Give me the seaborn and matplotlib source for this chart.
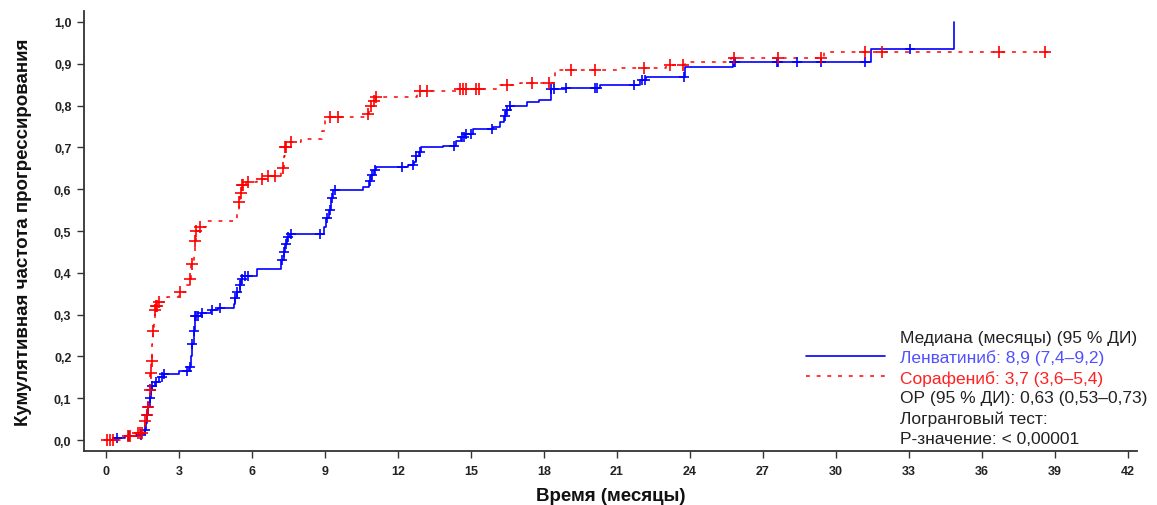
import numpy as np
import pandas as pd
import matplotlib
matplotlib.use("Agg")
import matplotlib.pyplot as plt
from matplotlib.lines import Line2D
import seaborn as sns

# ---------------- data ----------------
arm_names = ["Ленватиниб", "Сорафениб"]

len_times = [0, 0.3, 0.8, 1.3, 1.5, 1.6, 1.65, 1.7, 1.75, 1.8, 1.85, 1.9, 2.0, 2.2, 2.4,
             3.0, 3.4, 3.5, 3.55, 3.6, 3.65, 3.9, 4.3, 4.6, 5.25, 5.3, 5.4, 5.5, 5.55, 5.6,
             6.2, 7.2, 7.3, 7.35, 7.45, 7.55, 8.95, 9.05, 9.15, 9.25, 9.35, 10.55, 10.8,
             10.9, 11.0, 11.1, 12.4, 12.65, 12.75, 12.85, 12.95, 13.85, 14.4, 14.6, 14.75,
             15.1, 15.9, 16.2, 16.35, 16.45, 16.6, 17.3, 17.8, 18.3, 18.9, 20.3, 21.95,
             22.2, 23.8, 25.75, 31.45, 34.85]
len_values = [0.0, 0.004, 0.009, 0.013, 0.018, 0.025, 0.04, 0.06, 0.08, 0.10, 0.12, 0.13,
              0.138, 0.15, 0.158, 0.166, 0.175, 0.20, 0.23, 0.26, 0.297, 0.303, 0.31, 0.315,
              0.325, 0.34, 0.355, 0.37, 0.385, 0.393, 0.408, 0.43, 0.45, 0.47, 0.485, 0.494,
              0.509, 0.53, 0.55, 0.58, 0.597, 0.605, 0.62, 0.635, 0.645, 0.652, 0.657, 0.664,
              0.68, 0.69, 0.70, 0.704, 0.715, 0.725, 0.732, 0.744, 0.748, 0.76, 0.775, 0.79,
              0.80, 0.808, 0.813, 0.84, 0.842, 0.848, 0.86, 0.868, 0.893, 0.903, 0.935, 1.0]
len_censored = [0.45, 0.95, 1.45, 1.6, 1.7, 1.75, 1.8, 1.85, 1.9, 2.05, 2.3, 2.4, 3.35, 3.45,
                3.55, 3.6, 3.65, 3.7, 3.8, 3.95, 4.35, 4.7, 5.3, 5.4, 5.5, 5.58, 5.7, 5.85,
                7.25, 7.3, 7.4, 7.5, 7.6, 8.8, 9.1, 9.2, 9.3, 9.4, 10.85, 10.95, 11.05, 12.15,
                12.6, 12.75, 12.9, 14.3, 14.65, 14.7, 14.8, 15.0, 15.85, 16.4, 16.5, 16.6,
                18.3, 18.4, 18.9, 20.1, 20.2, 21.7, 22.05, 22.15, 23.75, 25.8, 25.85, 27.56,
                27.63, 28.4, 29.4, 31.2, 33.05]

sor_times = [0, 0.9, 1.25, 1.55, 1.6, 1.7, 1.75, 1.8, 1.83, 1.86, 1.9, 1.93, 1.96, 2.0,
             2.05, 2.15, 2.5, 3.0, 3.3, 3.45, 3.5, 3.6, 3.65, 3.7, 3.85, 4.1, 5.4, 5.45, 5.5,
             5.6, 5.75, 6.2, 6.6, 7.2, 7.3, 7.35, 7.45, 8.0, 8.9, 9.0, 10.7, 10.8, 10.9, 11.0,
             11.1, 12.8, 14.5, 16.2, 17.0, 18.45, 21.2, 23.0, 23.8, 25.7, 29.5, 38.7]
sor_values = [0.0, 0.01, 0.017, 0.03, 0.045, 0.06, 0.08, 0.12, 0.16, 0.19, 0.23, 0.26, 0.29,
              0.31, 0.32, 0.33, 0.343, 0.353, 0.37, 0.385, 0.42, 0.45, 0.476, 0.50, 0.51,
              0.525, 0.55, 0.57, 0.59, 0.61, 0.616, 0.625, 0.632, 0.65, 0.68, 0.70, 0.712,
              0.72, 0.74, 0.772, 0.78, 0.79, 0.80, 0.81, 0.82, 0.834, 0.84, 0.848, 0.855,
              0.885, 0.889, 0.897, 0.903, 0.913, 0.929, 0.929]
sor_censored = [0.03, 0.16, 0.3, 0.92, 0.99, 1.3, 1.4, 1.5, 1.6, 1.7, 1.75, 1.8, 1.84, 1.88,
                1.95, 2.0, 2.05, 2.1, 2.2, 3.05, 3.45, 3.52, 3.66, 3.7, 3.86, 5.45, 5.55, 5.6,
                5.65, 5.85, 6.4, 6.67, 6.95, 7.29, 7.35, 7.4, 7.6, 9.2, 9.55, 10.78, 10.9,
                11.0, 11.1, 12.9, 13.18, 14.55, 14.68, 14.8, 15.2, 15.35, 16.47,
                17.5, 18.2, 19.1, 20.1, 22.1, 23.2, 23.7, 25.8, 27.6, 29.4, 31.2, 31.9, 36.7,
                38.6]

x_ticks = list(range(0, 43, 3))
y_ticks = [0.0, 0.1, 0.2, 0.3, 0.4, 0.5, 0.6, 0.7, 0.8, 0.9, 1.0]

legend_lines = [
    ("Медиана (месяцы) (95 % ДИ)", "#222222"),
    ("Ленватиниб: 8,9 (7,4–9,2)", "#5050ff"),
    ("Сорафениб: 3,7 (3,6–5,4)", "#ff2020"),
    ("ОР (95 % ДИ): 0,63 (0,53–0,73)", "#222222"),
    ("Логранговый тест:", "#222222"),
    ("P-значение: < 0,00001", "#222222"),
]

# ---------------- build frames ----------------
def step_eval(times, values, t):
    idx = np.searchsorted(np.asarray(times), np.asarray(t), side="right") - 1
    return np.asarray(values)[idx]

curve_df = pd.concat([
    pd.DataFrame({"time": len_times, "value": len_values, "arm": arm_names[0]}),
    pd.DataFrame({"time": sor_times, "value": sor_values, "arm": arm_names[1]}),
], ignore_index=True)

cens_df = pd.concat([
    pd.DataFrame({"time": len_censored,
                  "value": step_eval(len_times, len_values, len_censored),
                  "arm": arm_names[0]}),
    pd.DataFrame({"time": sor_censored,
                  "value": step_eval(sor_times, sor_values, sor_censored),
                  "arm": arm_names[1]}),
], ignore_index=True)

# ---------------- plot ----------------
sns.set_theme(style="ticks")
plt.rcParams["font.family"] = ["Liberation Sans", "DejaVu Sans"]

palette = {arm_names[0]: "#0000ff", arm_names[1]: "#ff0000"}

fig = plt.figure(figsize=(11.57, 5.06), dpi=100)
ax = fig.add_axes([0.0726, 0.1067, 0.9101, 0.8696])

for arm in arm_names:
    sub = curve_df[curve_df["arm"] == arm]
    sns.lineplot(data=sub, x="time", y="value", ax=ax, color=palette[arm],
                 drawstyle="steps-post", estimator=None, sort=False,
                 linewidth=1.2 if arm == arm_names[0] else 1.1,
                 linestyle="-" if arm == arm_names[0] else (0, (2.5, 4.5)),
                 legend=False)

for arm in arm_names:
    sub = cens_df[cens_df["arm"] == arm]
    sns.scatterplot(data=sub, x="time", y="value", ax=ax, color=palette[arm],
                    marker="+", s=55 if arm == arm_names[0] else 70,
                    linewidth=1.2, legend=False, zorder=3)

ax.set_xlim(-0.9, 42.37)
ax.set_ylim(-0.026, 1.026)
ax.set_xticks(x_ticks)
ax.set_xticklabels([str(v) for v in x_ticks])
ax.set_yticks(y_ticks)
ax.set_yticklabels([f"{v:.1f}".replace(".", ",") for v in y_ticks])
ax.tick_params(axis="both", labelsize=9, length=5, width=1, color="#333333",
               labelcolor="#222222")
ax.tick_params(axis="y", pad=4)
ax.tick_params(axis="x", pad=5)
for lab in ax.get_xticklabels() + ax.get_yticklabels():
    lab.set_fontweight("bold")

for s in ["left", "bottom"]:
    ax.spines[s].set_color("#333333")
    ax.spines[s].set_linewidth(1.3)
sns.despine(ax=ax)

ax.set_xlabel("Время (месяцы)", fontsize=13.5, fontweight="bold", color="#111111", labelpad=7)
ax.set_ylabel("Кумулятивная частота прогрессирования", fontsize=13.5, fontweight="bold",
              color="#111111", labelpad=16)

# legend block
y0 = 1 - 338 / 506
dy = 20.3 / 506
for i, (txt, col) in enumerate(legend_lines):
    fig.text(900 / 1157, y0 - i * dy, txt, color=col, fontsize=12.5, va="center", ha="left")
fig.add_artist(Line2D([806 / 1157, 885 / 1157], [1 - 357 / 506] * 2, color="#0000ff",
                      linewidth=1.2))
fig.add_artist(Line2D([806 / 1157, 885 / 1157], [1 - 377 / 506] * 2, color="#ff0000",
                      linewidth=1.1, linestyle=(0, (2.5, 4.5))))

fig.savefig("out.png", dpi=100)
